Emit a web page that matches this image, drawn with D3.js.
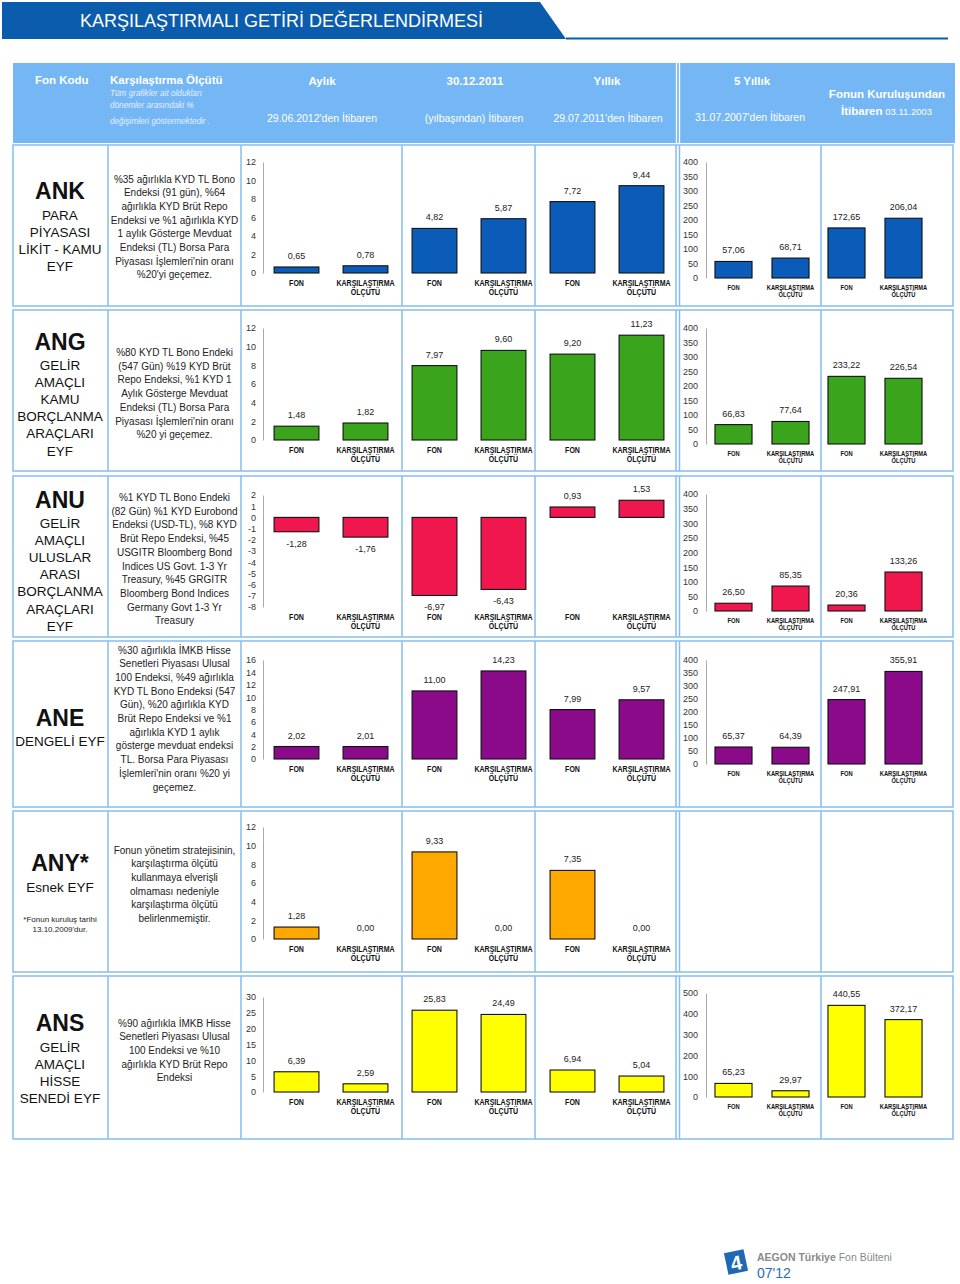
<!DOCTYPE html>
<html>
<head>
<meta charset="utf-8">
<script src="https://cdn.jsdelivr.net/npm/d3@7"></script>
<style>
body { margin: 0; background: #fff; }
text { font-family: "Liberation Sans", Arial, sans-serif; }
</style>
</head>
<body>
<svg id="chart"></svg>
<script>
// ---- data ----
const fundCodes = ["ANK", "ANG", "ANU", "ANE", "ANY*", "ANS"];
const fundNames = [
    ["PARA", "PİYASASI", "LİKİT - KAMU", "EYF"],
    ["GELİR", "AMAÇLI", "KAMU", "BORÇLANMA", "ARAÇLARI", "EYF"],
    ["GELİR", "AMAÇLI", "ULUSLAR", "ARASI", "BORÇLANMA", "ARAÇLARI", "EYF"],
    ["DENGELİ EYF"],
    ["Esnek EYF"],
    ["GELİR", "AMAÇLI", "HİSSE", "SENEDİ EYF"]
];
const fundNotes = [[], [], [], [], ["*Fonun kuruluş tarihi", "13.10.2009'dur."], []];
const benchmarks = [
    ["%35 ağırlıkla KYD TL Bono", "Endeksi (91 gün), %64", "ağırlıkla KYD Brüt Repo", "Endeksi ve %1 ağırlıkla KYD",
     "1 aylık Gösterge Mevduat", "Endeksi (TL) Borsa Para", "Piyasası İşlemleri'nin oranı", "%20'yi geçemez."],
    ["%80 KYD TL Bono Endeki", "(547 Gün) %19 KYD Brüt", "Repo Endeksi, %1 KYD 1", "Aylık Gösterge Mevduat",
     "Endeksi (TL) Borsa Para", "Piyasası İşlemleri'nin oranı", "%20 yi geçemez."],
    ["%1 KYD TL Bono Endeki", "(82 Gün) %1 KYD Eurobond", "Endeksi (USD-TL), %8 KYD", "Brüt Repo Endeksi, %45",
     "USGITR Bloomberg Bond", "Indices US Govt. 1-3 Yr", "Treasury, %45 GRGITR", "Bloomberg Bond Indices",
     "Germany Govt 1-3 Yr", "Treasury"],
    ["%30 ağırlıkla İMKB Hisse", "Senetleri Piyasası Ulusal", "100 Endeksi, %49 ağırlıkla", "KYD TL Bono Endeksi (547",
     "Gün), %20 ağırlıkla KYD", "Brüt Repo Endeksi ve %1", "ağırlıkla KYD 1 aylık", "gösterge mevduat endeksi",
     "TL. Borsa Para Piyasası", "İşlemleri'nin oranı %20 yi", "geçemez."],
    ["Fonun yönetim stratejisinin,", "karşılaştırma ölçütü", "kullanmaya elverişli", "olmaması nedeniyle",
     "karşılaştırma ölçütü", "belirlenmemiştir."],
    ["%90 ağırlıkla İMKB Hisse", "Senetleri Piyasası Ulusal", "100 Endeksi ve %10", "ağırlıkla KYD Brüt Repo", "Endeksi"]
];
const categories = ["FON", "KARŞILAŞTIRMA ÖLÇÜTÜ"];

// [FON, KARŞILAŞTIRMA ÖLÇÜTÜ] per fund
const monthly = [[0.65, 0.78], [1.48, 1.82], [-1.28, -1.76], [2.02, 2.01], [1.28, 0.00], [6.39, 2.59]];
const sinceNewYear = [[4.82, 5.87], [7.97, 9.60], [-6.97, -6.43], [11.00, 14.23], [9.33, 0.00], [25.83, 24.49]];
const yearly = [[7.72, 9.44], [9.20, 11.23], [0.93, 1.53], [7.99, 9.57], [7.35, 0.00], [6.94, 5.04]];
const fiveYear = [[57.06, 68.71], [66.83, 77.64], [26.50, 85.35], [65.37, 64.39], null, [65.23, 29.97]];
const sinceInception = [[172.65, 206.04], [233.22, 226.54], [20.36, 133.26], [247.91, 355.91], null, [440.55, 372.17]];

const leftTicks = [
    [0, 2, 4, 6, 8, 10, 12],
    [0, 2, 4, 6, 8, 10, 12],
    [-8, -7, -6, -5, -4, -3, -2, -1, 0, 1, 2],
    [0, 2, 4, 6, 8, 10, 12, 14, 16],
    [0, 2, 4, 6, 8, 10, 12],
    [0, 5, 10, 15, 20, 25, 30]
];
const rightTicks = [
    [0, 50, 100, 150, 200, 250, 300, 350, 400],
    [0, 50, 100, 150, 200, 250, 300, 350, 400],
    [0, 50, 100, 150, 200, 250, 300, 350, 400],
    [0, 50, 100, 150, 200, 250, 300, 350, 400],
    null,
    [0, 100, 200, 300, 400, 500]
];
const barColors = ["#0b5cb8", "#3aa51c", "#f0174f", "#8a0a8a", "#ffa800", "#ffff00"];

// ---- layout ----
const rowBox = [[145, 306], [310, 471], [476, 637], [641, 807], [811, 972], [976, 1139]];
const leftRange = [[273, 162], [440, 328], [607, 495], [759, 660], [939, 827], [1092, 997]];
const rightRange = [[278, 162], [444, 328], [611, 494], [764, 660], null, [1097, 993]];
const codeY = [191, 342, 500, 718, 863, 1023];
const nameY = [215, 365, 523, 741, 887, 1047];
const descY = [179, 352.5, 497.5, 650, 850, 1023];
const panelX = [[262, 400], [400, 538], [538, 676], [705, 819], [818, 932]];
const colX = [13, 108, 241, 402, 535, 821, 953];
const lineBlue = "#86bdf0";

const loc = d3.formatLocale({decimal: ",", thousands: ".", grouping: [3], currency: ["", ""], minus: "-"});
const fmtVal = loc.format(".2f");
const fmtTick = loc.format("d");

const svg = d3.select("#chart").attr("width", 960).attr("height", 1284);

// title
svg.append("polygon")
    .attr("points", "2,2 540,2 566,39 2,39")
    .attr("fill", "#0b5cad");
svg.append("line")
    .attr("x1", 566).attr("x2", 948).attr("y1", 38.5).attr("y2", 38.5)
    .attr("stroke", "#0b5cad").attr("stroke-width", 2);
svg.append("text")
    .attr("x", 80).attr("y", 27)
    .attr("fill", "#fff")
    .style("font-size", "18px")
    .text("KARŞILAŞTIRMALI GETİRİ DEĞERLENDİRMESİ");

// header
svg.append("rect")
    .attr("x", 13).attr("y", 63).attr("width", 942).attr("height", 80)
    .attr("fill", "#75b6f4");
[676.5, 679.5].forEach((x) => {
    svg.append("line")
        .attr("x1", x).attr("x2", x).attr("y1", 63).attr("y2", 143)
        .attr("stroke", "#fff").attr("stroke-width", 1.3);
});
const head = (x, y, txt, size, weight, anchor) => svg.append("text")
    .attr("x", x).attr("y", y)
    .attr("fill", "#fff")
    .attr("text-anchor", anchor || "middle")
    .attr("dominant-baseline", "central")
    .style("font-size", size + "px")
    .style("font-weight", weight || "normal")
    .text(txt);
head(35, 80, "Fon Kodu", 11.5, "bold", "start");
head(110, 80, "Karşılaştırma Ölçütü", 11.5, "bold", "start");
["Tüm grafikler ait oldukları", "dönemler arasındaki %", "değişimleri göstermektedir ."].forEach((t, i) => {
    head(110, [93, 105, 121][i], t, 8.2, "normal", "start")
        .attr("fill", "#e4f1ff").style("font-style", "italic");
});
head(322, 81, "Aylık", 11.5, "bold");
head(322, 118, "29.06.2012'den İtibaren", 10.5);
head(475, 81, "30.12.2011", 11.5, "bold");
head(474, 118, "(yılbaşından) İtibaren", 10.5);
head(607, 81, "Yıllık", 11.5, "bold");
head(608, 118, "29.07.2011'den İtibaren", 10.5);
head(752, 81, "5 Yıllık", 11.5, "bold");
head(750, 117, "31.07.2007'den İtibaren", 10.5);
head(887, 94, "Fonun Kuruluşundan", 11.5, "bold");
const hl = head(841, 111, "", 11.5, "bold", "start");
hl.append("tspan").text("İtibaren");
hl.append("tspan").style("font-weight", "normal").style("font-size", "9.5px").text(" 03.11.2003");

// rows
fundCodes.forEach((code, r) => {
    const [top, bottom] = rowBox[r];
    const g = svg.append("g");

    // borders
    g.append("rect")
        .attr("x", colX[0]).attr("y", top).attr("width", colX[6] - colX[0]).attr("height", bottom - top)
        .attr("fill", "none").attr("stroke", lineBlue).attr("stroke-width", 1.5);
    colX.slice(1, 6).concat([676, 679.5]).forEach((x) => {
        g.append("line")
            .attr("x1", x).attr("x2", x).attr("y1", top).attr("y2", bottom)
            .attr("stroke", lineBlue).attr("stroke-width", 1.5);
    });

    // fund code + name
    g.append("text")
        .attr("x", 60).attr("y", codeY[r])
        .attr("text-anchor", "middle").attr("dominant-baseline", "central")
        .style("font-size", "23px").style("font-weight", "bold").attr("fill", "#111")
        .text(code);
    fundNames[r].forEach((t, i) => {
        g.append("text")
            .attr("x", 60).attr("y", nameY[r] + i * 17.2)
            .attr("text-anchor", "middle").attr("dominant-baseline", "central")
            .style("font-size", "13.5px").attr("fill", "#111")
            .text(t);
    });
    fundNotes[r].forEach((t, i) => {
        g.append("text")
            .attr("x", 60).attr("y", 919 + i * 10)
            .attr("text-anchor", "middle").attr("dominant-baseline", "central")
            .style("font-size", "8px").attr("fill", "#222")
            .text(t);
    });

    // benchmark description
    benchmarks[r].forEach((t, i) => {
        g.append("text")
            .attr("x", 174.5).attr("y", descY[r] + i * 13.7)
            .attr("text-anchor", "middle").attr("dominant-baseline", "central")
            .style("font-size", "10px").attr("fill", "#222")
            .text(t);
    });

    // left charts (short periods)
    const ly = d3.scaleLinear()
        .domain(d3.extent(leftTicks[r]))
        .range(leftRange[r]);
    const leftAxis = g.append("g")
        .attr("transform", "translate(263,0)")
        .call(d3.axisLeft(ly).tickValues(leftTicks[r]).tickSize(0).tickPadding(7).tickFormat(fmtTick));
    leftAxis.select(".domain").attr("stroke", "#aaa");
    leftAxis.selectAll("text").style("font-size", "9px").attr("fill", "#333")
        .style("font-family", "'Liberation Sans', Arial, sans-serif");

    [monthly, sinceNewYear, yearly].forEach((series, p) => {
        drawPanel(g, series[r], panelX[p], ly, barColors[r], false);
    });

    // right charts (long periods)
    if (rightTicks[r]) {
        const ry = d3.scaleLinear()
            .domain(d3.extent(rightTicks[r]))
            .range(rightRange[r]);
        const rightAxis = g.append("g")
            .attr("transform", "translate(706,0)")
            .call(d3.axisLeft(ry).tickValues(rightTicks[r]).tickSize(0).tickPadding(8).tickFormat(fmtTick));
        rightAxis.select(".domain").attr("stroke", "#aaa");
        rightAxis.selectAll("text").style("font-size", "9px").attr("fill", "#333")
            .style("font-family", "'Liberation Sans', Arial, sans-serif");
        [fiveYear, sinceInception].forEach((series, p) => {
            drawPanel(g, series[r], panelX[p + 3], ry, barColors[r], true);
        });
    }
});

function drawPanel(g, values, range, y, color, small) {
    const x = d3.scaleBand()
        .domain(categories)
        .range(range)
        .paddingInner(0.35)
        .paddingOuter(0.175);
    const data = categories.map((c, i) => ({cat: c, v: values[i]}));
    const y0 = y(0);
    const yBase = y.range()[0];

    g.append("g").selectAll("rect")
        .data(data.filter((d) => d.v !== 0))
        .enter()
        .append("rect")
            .attr("x", (d) => x(d.cat))
            .attr("width", x.bandwidth())
            .attr("y", (d) => Math.min(y0, y(d.v)))
            .attr("height", (d) => Math.abs(y(d.v) - y0))
            .attr("fill", color)
            .attr("stroke", "#111")
            .attr("stroke-width", 1.1);

    g.append("g").selectAll("text")
        .data(data)
        .enter()
        .append("text")
            .attr("x", (d) => x(d.cat) + x.bandwidth() / 2)
            .attr("y", (d) => d.v >= 0 ? y(d.v) - 11 : y(d.v) + 12)
            .attr("text-anchor", "middle").attr("dominant-baseline", "central")
            .style("font-size", "9px").attr("fill", "#222")
            .text((d) => fmtVal(d.v));

    // condensed bold category labels
    data.forEach((d) => {
        d.cat.split(" ").forEach((w, i) => {
            const cx = x(d.cat) + x.bandwidth() / 2;
            const cy = yBase + (small ? 9 : 10) + i * (small ? 7.5 : 9);
            g.append("text")
                .attr("transform", `translate(${cx},${cy}) scale(0.8,1)`)
                .attr("text-anchor", "middle").attr("dominant-baseline", "central")
                .style("font-size", (small ? 7.2 : 8.8) + "px")
                .style("font-weight", "bold").attr("fill", "#111")
                .text(w);
        });
    });
}

// footer
const logo = svg.append("g").attr("transform", "translate(736,1262) rotate(-12)");
logo.append("rect")
    .attr("x", -10).attr("y", -11).attr("width", 20).attr("height", 22)
    .attr("fill", "#1e68b4");
logo.append("text")
    .attr("x", 0).attr("y", 1).attr("text-anchor", "middle").attr("dominant-baseline", "central")
    .style("font-size", "20px").style("font-weight", "bold").attr("fill", "#fff")
    .text("4");
const ft = svg.append("text")
    .attr("x", 757).attr("y", 1257).attr("dominant-baseline", "central")
    .style("font-size", "10.5px").attr("fill", "#8a8a8a");
ft.append("tspan").style("font-weight", "bold").text("AEGON Türkiye");
ft.append("tspan").text(" Fon Bülteni");
svg.append("text")
    .attr("x", 757).attr("y", 1273).attr("dominant-baseline", "central")
    .style("font-size", "14px").attr("fill", "#2a6db5")
    .text("07'12");
</script>
</body>
</html>
